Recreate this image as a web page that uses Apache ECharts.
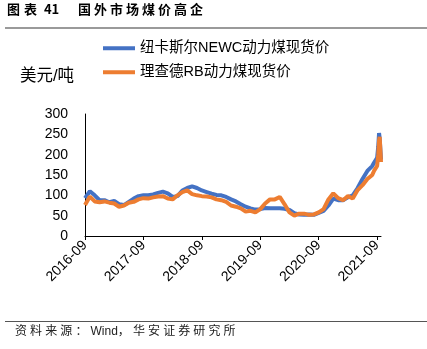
<!DOCTYPE html>
<html>
<head>
<meta charset="utf-8">
<script src="https://cdn.jsdelivr.net/npm/echarts@6/dist/echarts.min.js"></script>
<style>html,body{margin:0;padding:0;background:#fff}#c{width:427px;height:349px}</style>
</head>
<body>
<div id="c"></div>
<script>
// ---- data ----
const seriesNames = ['纽卡斯尔NEWC动力煤现货价', '理查德RB动力煤现货价'];
const dates = [
  '2016-09-01','2016-10-01','2016-11-01','2016-12-01','2017-01-01','2017-02-01','2017-03-01','2017-04-01',
  '2017-05-01','2017-06-01','2017-07-01','2017-08-01','2017-09-01','2017-10-01','2017-11-01','2017-12-01',
  '2018-01-01','2018-02-01','2018-03-01','2018-04-01','2018-05-01','2018-06-01','2018-07-01','2018-08-01',
  '2018-09-01','2018-10-01','2018-11-01','2018-12-01','2019-01-01','2019-02-01','2019-03-01','2019-04-01',
  '2019-05-01','2019-06-01','2019-07-01','2019-08-01','2019-09-01','2019-10-01','2019-11-01','2019-12-01',
  '2020-01-01','2020-02-01','2020-03-01','2020-04-01','2020-05-01','2020-06-01','2020-07-01','2020-08-01',
  '2020-09-01','2020-10-01','2020-11-01','2020-12-01','2021-01-01','2021-02-01','2021-03-01','2021-04-01',
  '2021-05-01','2021-06-01','2021-07-01','2021-08-01','2021-08-12','2021-09-01','2021-09-08','2021-09-13',
  '2021-09-17','2021-09-25'
];
const newc = [
  93,110,100,88,88,83,86,78,
  76,84,92,98,100,100,102,106,
  109,105,96,98,112,118,122,118,
  112,108,104,101,100,96,90,85,
  78,72,68,65,66,69,68,68,
  68,67,64,56,53,52,53,52,
  57,62,75,92,88,88,95,100,
  118,140,160,172,180,192,220,253,
  240,188
];
const rb = [
  76,97,85,83,85,82,80,72,
  75,82,84,90,93,92,95,97,
  98,92,90,100,108,112,103,100,
  98,97,95,90,88,84,75,72,
  68,60,62,58,66,80,90,90,
  96,78,58,50,55,55,52,53,
  58,66,90,105,93,88,98,92,
  113,125,140,150,160,172,200,235,
  244,182
];
const xTickLabels = ['2016-09','2017-09','2018-09','2019-09','2020-09','2021-09'];
const titleText = '图表 41';
const titleText2 = '国外市场煤价高企';
const unitText = '美元/吨';
const sourceText = '资料来源：Wind，华安证券研究所';

// months since 2016-09-01
function toMonths(d) {
  const [y, m, day] = d.split('-').map(Number);
  return (y - 2016) * 12 + (m - 9) + (day - 1) / 30;
}
const ctx = document.createElement('canvas').getContext('2d');
function spacedText(str, x, y, font, spacing, color, weight) {
  ctx.font = (weight || 'normal') + ' ' + font;
  const els = [];
  let cx = x;
  for (const ch of str) {
    els.push({type: 'text', left: cx, top: y, silent: true,
      style: {text: ch, font: (weight || 'normal') + ' ' + font, fill: color}});
    const wide = ch.charCodeAt(0) > 0x2E80;
    cx += ctx.measureText(ch).width + (wide ? spacing : 0);
  }
  return els;
}

const chart = echarts.init(document.getElementById('c'), null, {renderer: 'canvas'});
const tickVals = xTickLabels.map((_, i) => i * 12);
const graphics = [].concat(
  spacedText(titleText, 7, 3, '13px "Noto Sans CJK SC", "Liberation Sans"', 4, '#000', 'bold'),
  spacedText(titleText2, 78, 3, '13px "Noto Sans CJK SC"', 3.0, '#000', 'bold'),
  [{type: 'rect', left: 5, top: 27, silent: true, shape: {width: 422, height: 2}, style: {fill: '#9a9a9a'}}],
  [{type: 'text', left: 20, top: 68, silent: true, style: {text: unitText, font: '16.5px "Liberation Sans", "Noto Sans CJK SC"', fill: '#000'}}],
  [{type: 'rect', left: 5, top: 321, silent: true, shape: {width: 422, height: 1}, style: {fill: '#555'}}],
  spacedText(sourceText, 15, 326, '12px "Liberation Sans", "Noto Sans CJK SC"', 3.1, '#222')
);

chart.setOption({
  animation: false,
  backgroundColor: '#fff',
  grid: {left: 85, right: 46, top: 114, bottom: 113},
  legend: [
    {data: [seriesNames[0]], left: 98, top: 36, icon: 'rect', itemWidth: 32, itemHeight: 4,
     textStyle: {fontSize: 14.5, color: '#000', fontFamily: '"Liberation Sans", "Noto Sans CJK SC"'}},
    {data: [seriesNames[1]], left: 98, top: 60, icon: 'rect', itemWidth: 32, itemHeight: 4,
     textStyle: {fontSize: 14.5, color: '#000', fontFamily: '"Liberation Sans", "Noto Sans CJK SC"'}}
  ],
  xAxis: {
    type: 'value', min: 0, max: 60.8, interval: 12,
    splitLine: {show: false},
    axisLine: {show: true, lineStyle: {color: '#000', width: 1}},
    axisTick: {show: true, length: 4, customValues: tickVals, lineStyle: {color: '#000'}},
    axisLabel: {
      customValues: tickVals, rotate: 45, margin: 7, fontSize: 14, color: '#000',
      fontFamily: '"Liberation Sans"',
      formatter: v => xTickLabels[Math.round(v / 12)] || ''
    }
  },
  yAxis: {
    type: 'value', min: 0, max: 300, interval: 50,
    splitLine: {show: false},
    axisLine: {show: true, lineStyle: {color: '#000', width: 1}},
    axisTick: {show: false},
    axisLabel: {margin: 17, fontSize: 14, color: '#000', fontFamily: '"Liberation Sans"'}
  },
  series: [
    {name: seriesNames[0], type: 'line', showSymbol: false, symbol: 'none',
     color: '#4472C4', lineStyle: {width: 4, color: '#4472C4'},
     data: dates.map((d, i) => [toMonths(d), newc[i]])},
    {name: seriesNames[1], type: 'line', showSymbol: false, symbol: 'none',
     color: '#ED7D31', lineStyle: {width: 4, color: '#ED7D31'},
     data: dates.map((d, i) => [toMonths(d), rb[i]])}
  ],
  graphic: graphics
});
</script>
</body>
</html>
